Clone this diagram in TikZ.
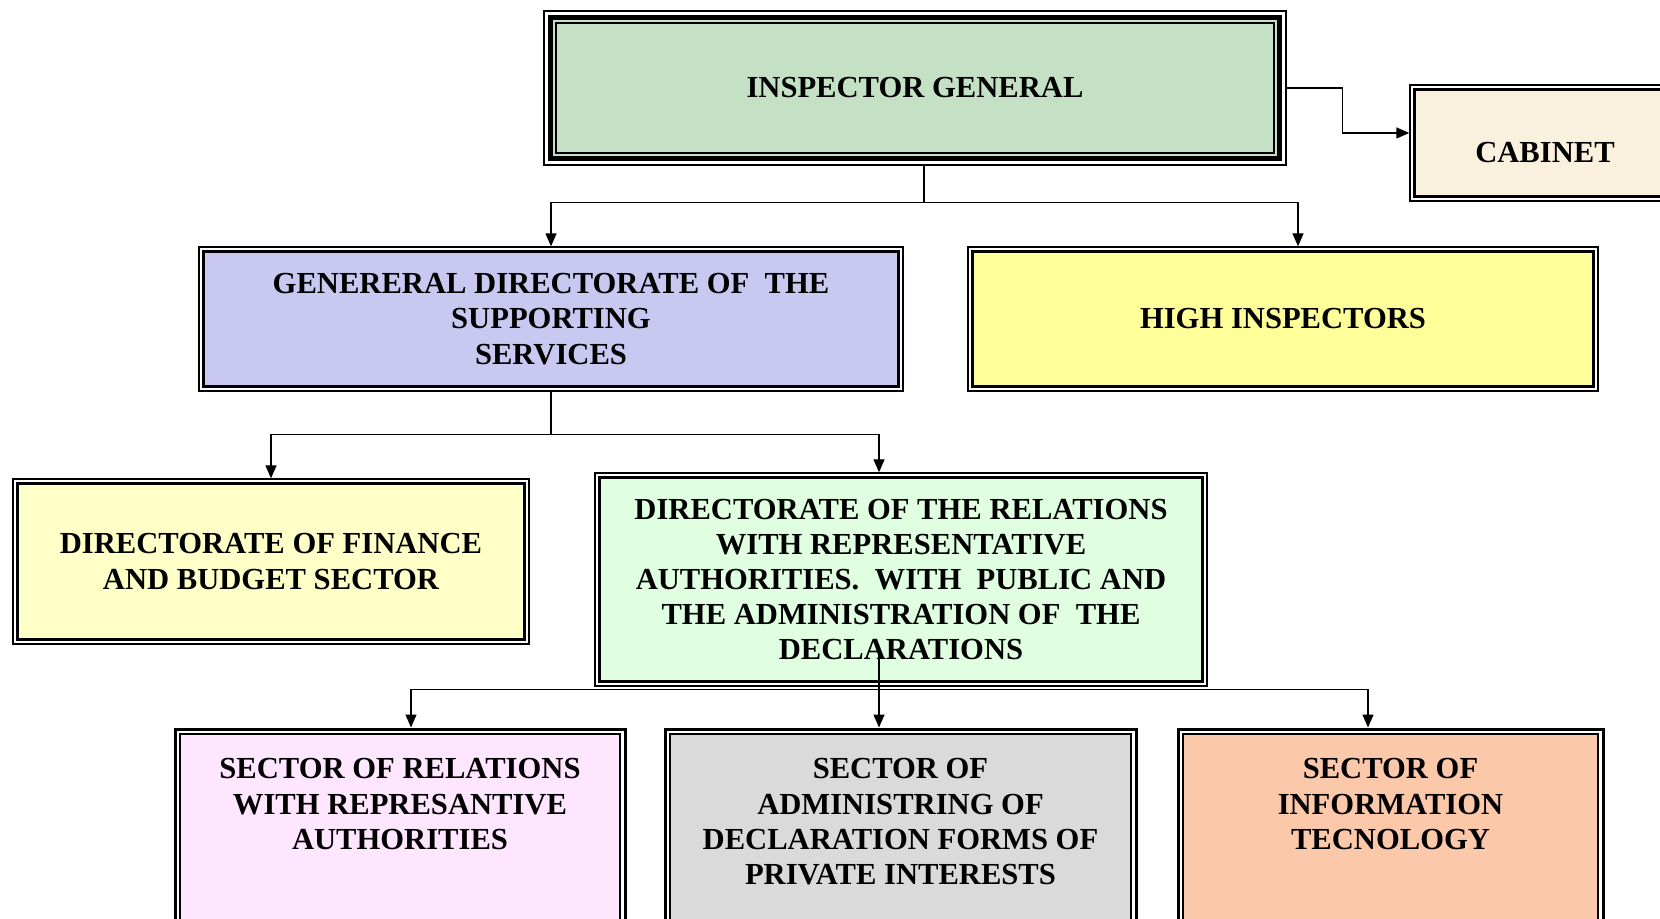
\documentclass[tikz,border=0pt]{standalone}
\usepackage{fontspec}
\setmainfont{Liberation Serif}
\usetikzlibrary{arrows.meta,positioning}

\definecolor{igfill}{RGB}{197,225,197}
\definecolor{cabfill}{RGB}{250,240,222}
\definecolor{gdsfill}{RGB}{200,200,240}
\definecolor{highfill}{RGB}{255,255,153}
\definecolor{finfill}{RGB}{255,255,200}
\definecolor{relfill}{RGB}{224,255,224}
\definecolor{secrelfill}{RGB}{255,230,255}
\definecolor{secadmfill}{RGB}{218,218,218}
\definecolor{secitfill}{RGB}{251,200,170}

\begin{document}
\begin{tikzpicture}[
  x=0.5pt, y=-0.5pt,
  every node/.style={font=\bfseries\fontsize{15.3}{17.6}\selectfont, align=center},
  unit/.style={rectangle, draw, line width=0.7pt, inner sep=0pt},
  sector/.style={rectangle, draw, line width=1.5pt, inner sep=0pt,
                 minimum height=115.5pt},
  link/.style={-{Triangle[length=6.5pt,width=5.5pt]}, line width=0.7pt}
]
\useasboundingbox (0,0) rectangle (1660,919);

% Nodes
\node[unit, line width=0.6pt, fill=igfill, minimum width=371pt, minimum height=77pt] (ig) at (915,88) {INSPECTOR GENERAL};
\node[unit, fill=cabfill, minimum width=135pt, minimum height=58pt, text height=20pt] (cab) at (1545,143) {CABINET};

\node[unit, fill=gdsfill, minimum width=352pt, minimum height=72pt] (gds) at (551,319)
  {GENERERAL DIRECTORATE OF~~THE\\SUPPORTING\\SERVICES};
\node[unit, fill=highfill, minimum width=315pt, minimum height=72pt] (high) at (1283,319) {HIGH INSPECTORS};

\node[unit, fill=finfill, minimum width=258pt, minimum height=82.5pt] (fin) at (271,561.5)
  {DIRECTORATE OF FINANCE\\AND BUDGET SECTOR};
\node[unit, fill=relfill, minimum width=306pt, minimum height=106.5pt] (rel) at (901,579.5)
  {DIRECTORATE OF THE RELATIONS\\WITH REPRESENTATIVE\\AUTHORITIES.~~WITH~~PUBLIC AND\\THE ADMINISTRATION OF~~THE\\DECLARATIONS};

\node[sector, fill=secrelfill, minimum width=225pt] (secrel) at (400,844.5) {};
\node[sector, fill=secadmfill, minimum width=235.5pt] (secadm) at (900.5,844.5) {};
\node[sector, fill=secitfill, minimum width=212.5pt] (secit) at (1390.5,844.5) {};

% Double frames
\foreach \n in {cab,gds,high,fin,rel} {
  \draw[white, line width=1.2pt] ([shift={(1.3pt,1.3pt)}]\n.south west) rectangle ([shift={(-1.3pt,-1.3pt)}]\n.north east);
  \draw[line width=1.4pt] ([shift={(2.6pt,2.6pt)}]\n.south west) rectangle ([shift={(-2.6pt,-2.6pt)}]\n.north east);
}
\foreach \n in {secrel,secadm,secit} {
  \draw[white, line width=1.2pt] ([shift={(2.1pt,2.1pt)}]\n.south west) rectangle ([shift={(-2.1pt,-2.1pt)}]\n.north east);
  \draw[line width=1.1pt] ([shift={(3.25pt,3.25pt)}]\n.south west) rectangle ([shift={(-3.25pt,-3.25pt)}]\n.north east);
}
\draw[white, line width=1.8pt] ([shift={(1.5pt,1.5pt)}]ig.south west) rectangle ([shift={(-1.5pt,-1.5pt)}]ig.north east);
\draw[line width=2.6pt] ([shift={(3.7pt,3.7pt)}]ig.south west) rectangle ([shift={(-3.7pt,-3.7pt)}]ig.north east);
\draw[line width=0.8pt] ([shift={(6.4pt,6.4pt)}]ig.south west) rectangle ([shift={(-6.4pt,-6.4pt)}]ig.north east);

% Sector texts
\node[below=12pt of secrel.north] (secreltext) {SECTOR OF RELATIONS\\WITH REPRESANTIVE\\AUTHORITIES};
\node[below=12pt of secadm.north] (secadmtext) {SECTOR OF\\ADMINISTRING OF\\DECLARATION FORMS OF\\PRIVATE INTERESTS};
\node[below=12pt of secit.north] (secittext) {SECTOR OF\\INFORMATION\\TECNOLOGY};

% Edges
\draw[link] ([xshift=4.5pt]ig.south) -- ++(0,37) -| (gds.north);
\draw[link] ([xshift=4.5pt]ig.south) -- ++(0,37) -| ([xshift=7.5pt]high.north);
\draw[link] (ig.east) -- ++(56,0) |- ([yshift=5pt]cab.west);

\draw[link] (gds.south) -- ++(0,43) -| (fin.north);
\draw[link] (gds.south) -- ++(0,43) -| ([xshift=-11pt]rel.north);

\draw[link] ([xshift=-11pt,yshift=20pt]rel.south) -- ([xshift=-10.75pt]secadm.north);
\draw[link] ([xshift=-11pt,yshift=-1.5pt]rel.south) -| ([xshift=5.5pt]secrel.north);
\draw[link] ([xshift=-11pt,yshift=-1.5pt]rel.south) -| ([xshift=-11.25pt]secit.north);

\end{tikzpicture}
\end{document}
